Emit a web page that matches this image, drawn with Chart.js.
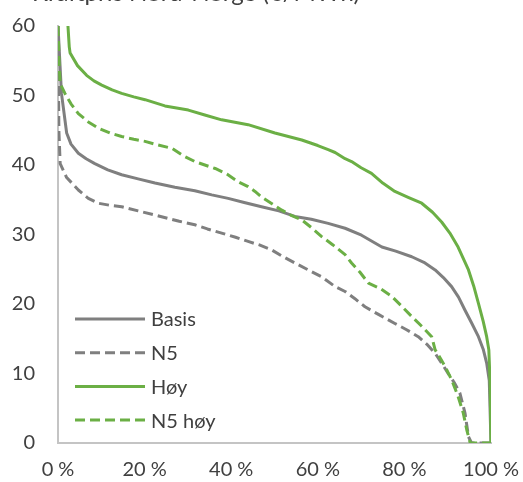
<!DOCTYPE html>
<html>
<head>
<meta charset="utf-8">
<script src="https://cdn.jsdelivr.net/npm/chart.js@4/dist/chart.umd.min.js"></script>
<style>
  html, body { margin: 0; padding: 0; background: #fff; overflow: hidden; }
  #wrap { position: relative; width: 523px; height: 482px; }
</style>
</head>
<body>
<div id="wrap"><canvas id="c" width="523" height="482"></canvas></div>
<script>
// Price duration curves, Nord-Norge (€/MWh), share of hours on x (%)
const chartTitle = 'Kraftpris Nord-Norge (€/MWh)';
const seriesNames = ['Basis', 'N5', 'Høy', 'N5 høy'];
const xTickLabels = ['0 %', '20 %', '40 %', '60 %', '80 %', '100 %'];
const yTickValues = [0, 10, 20, 30, 40, 50, 60];

const basisX = [0, 0.8, 2.0, 3.0, 4.7, 6.5, 8.5, 11.5, 14.7, 18.5, 22.4, 27, 31.6, 35.5, 39.3, 43, 47.0, 51, 54.7, 58.5, 62.4, 66.3, 70.1, 74.8, 78, 81.7, 84.5, 87.1, 89, 90.9, 92.5, 94.0, 95.5, 97.1, 98.2, 99.0, 99.6, 100];
const basisY = [60, 50.3, 44.6, 43.0, 41.7, 40.9, 40.2, 39.3, 38.6, 38.0, 37.4, 36.8, 36.3, 35.7, 35.2, 34.6, 34.0, 33.4, 32.6, 32.2, 31.6, 30.9, 29.9, 28.2, 27.6, 26.8, 26.0, 24.9, 23.8, 22.5, 21.0, 19.1, 17.3, 15.3, 13.5, 11.5, 9.0, 0];

const n5X = [0, 0.2, 0.5, 2.0, 4.7, 7, 9.3, 12, 14.7, 18.5, 22.4, 28, 31.6, 34.5, 37.8, 41, 43.9, 46.5, 49.3, 52, 54.7, 57.5, 60.9, 64, 66.3, 68.5, 70.9, 74, 77.8, 80.5, 83.2, 85.2, 87.1, 88.6, 90.1, 91.5, 92.8, 94.0, 94.8, 95.5, 100];
const n5Y = [60, 45, 40.2, 38.2, 36.4, 35.2, 34.5, 34.2, 34.0, 33.4, 32.8, 31.9, 31.4, 30.8, 30.2, 29.6, 29.0, 28.5, 27.8, 26.8, 25.9, 25.0, 23.9, 22.5, 21.8, 20.8, 19.6, 18.5, 17.2, 16.3, 15.3, 14.2, 12.9, 11.5, 10.0, 8.7, 7.2, 4.3, 0.9, 0, 0];

const hoyX = [2.3, 2.6, 2.8, 4.5, 6.6, 8.3, 10.1, 12.5, 14.7, 17.5, 20.1, 24.7, 30.1, 33.9, 37.8, 43.9, 50.1, 56.3, 60, 62.4, 64, 66.3, 67.8, 70, 72.4, 75, 77.8, 81, 84.0, 86.5, 88.6, 90.5, 92.4, 94.8, 96, 97.1, 98.2, 99.0, 99.5, 99.8, 100];
const hoyY = [60, 57, 56.1, 54.3, 52.9, 52.1, 51.5, 50.8, 50.3, 49.8, 49.4, 48.5, 47.9, 47.2, 46.5, 45.8, 44.6, 43.6, 42.8, 42.2, 41.8, 40.9, 40.5, 39.6, 38.8, 37.4, 36.2, 35.3, 34.5, 33.2, 31.8, 30.2, 28.2, 24.9, 22.6, 20.1, 17.5, 15.3, 13.4, 8.6, 0];

const n5HoyX = [0, 0.3, 0.5, 1.6, 3.0, 4.7, 7, 9.3, 12, 14.7, 17.5, 20.1, 23, 26.3, 29, 31.6, 33.9, 36.3, 39, 41.6, 43.9, 45.5, 47.0, 49.5, 51.7, 54, 56.3, 58.5, 60.9, 63.5, 66.3, 67.8, 69.7, 71.7, 74.5, 77.1, 79.5, 81.7, 84, 86.3, 87.1, 88.3, 89.4, 90.9, 92.4, 93.6, 94.4, 95.2, 100];
const n5HoyY = [60, 54, 51.7, 50.3, 48.8, 47.4, 46.2, 45.3, 44.6, 44.1, 43.7, 43.4, 42.9, 42.4, 41.3, 40.5, 40.0, 39.5, 38.7, 37.6, 36.9, 36.2, 35.4, 34.4, 33.5, 32.7, 32.1, 31.0, 29.7, 28.5, 27.1, 25.9, 24.6, 23.0, 22.2, 21.1, 19.6, 18.2, 16.8, 15.3, 13.4, 12.2, 11.0, 9.1, 6.7, 4.3, 1.9, 0, 0];

const GRAY = '#7F7F7F';
const GREEN = '#6BAF45';
const TEXT = '#404040';
const AXIS = '#C4C4C4';
const FONT = 'Lato, "Open Sans", sans-serif';

function pts(xs, ys) { return xs.map((x, i) => ({ x: x, y: ys[i] })); }

function line(label, xs, ys, color, dashed, order) {
  return {
    label: label,
    data: pts(xs, ys),
    borderColor: color,
    backgroundColor: color,
    borderWidth: 3,
    borderDash: dashed ? [10, 5] : [],
    borderCapStyle: 'butt',
    borderJoinStyle: 'round',
    pointRadius: 0,
    tension: 0,
    fill: false,
    order: order
  };
}

// Title, partly above the canvas edge
const titlePlugin = {
  id: 'topTitle',
  afterDraw(chart) {
    const ctx = chart.ctx;
    ctx.save();
    ctx.font = '24px ' + FONT;
    ctx.fillStyle = TEXT;
    ctx.textBaseline = 'alphabetic';
    ctx.textAlign = 'left';
    ctx.fillText(chartTitle, 32, 1);
    ctx.restore();
  }
};

// Legend drawn inside the plot, lower left
const insideLegend = {
  id: 'insideLegend',
  afterDatasetsDraw(chart) {
    const ctx = chart.ctx;
    const x0 = chart.chartArea.left + 17;
    const len = 70;
    const y0 = 319, step = 33.7;
    ctx.save();
    ctx.font = '20px ' + FONT;
    ctx.fillStyle = TEXT;
    ctx.textBaseline = 'middle';
    chart.data.datasets.forEach((ds, i) => {
      const y = y0 + i * step;
      ctx.beginPath();
      ctx.strokeStyle = ds.borderColor;
      ctx.lineWidth = ds.borderWidth;
      ctx.lineCap = 'butt';
      ctx.setLineDash(ds.borderDash);
      ctx.moveTo(x0, y);
      ctx.lineTo(x0 + len, y);
      ctx.stroke();
      ctx.setLineDash([]);
      ctx.fillText(ds.label, x0 + len + 6, y + 1);
    });
    ctx.restore();
  }
};

new Chart(document.getElementById('c'), {
  type: 'line',
  data: {
    datasets: [
      line(seriesNames[0], basisX, basisY, GRAY, false, 4),
      line(seriesNames[1], n5X, n5Y, GRAY, true, 3),
      line(seriesNames[2], hoyX, hoyY, GREEN, false, 2),
      line(seriesNames[3], n5HoyX, n5HoyY, GREEN, true, 1)
    ]
  },
  options: {
    responsive: false,
    animation: false,
    events: [],
    layout: { padding: { top: 26, right: 32, left: 0, bottom: 0 } },
    plugins: {
      legend: { display: false },
      title: { display: false },
      tooltip: { enabled: false }
    },
    scales: {
      x: {
        type: 'linear',
        min: 0,
        max: 100,
        afterFit(scale) {
          scale.height = 39;
          scale.paddingLeft = 0; scale.paddingRight = 0;
          scale.paddingTop = 0; scale.paddingBottom = 0;
        },
        grid: { display: false, drawTicks: false },
        border: { display: true, color: AXIS, width: 2 },
        afterBuildTicks(scale) {
          scale.ticks = xTickLabels.map((_, i) => ({ value: i * 20 }));
        },
        ticks: {
          autoSkip: false,
          maxRotation: 0,
          padding: 15,
          color: TEXT,
          font: { family: FONT, size: 20 },
          callback: (v) => xTickLabels[Math.round(v / 20)]
        }
      },
      y: {
        type: 'linear',
        min: 0,
        max: 60,
        afterFit(scale) {
          scale.width = 58;
          scale.paddingLeft = 0; scale.paddingRight = 0;
          scale.paddingTop = 0; scale.paddingBottom = 0;
        },
        grid: { display: false, drawTicks: false },
        border: { display: true, color: AXIS, width: 2 },
        afterBuildTicks(scale) {
          scale.ticks = yTickValues.map(v => ({ value: v }));
        },
        ticks: {
          autoSkip: false,
          padding: 23,
          color: TEXT,
          font: { family: FONT, size: 20 },
          callback: (v) => String(v)
        }
      }
    }
  },
  plugins: [titlePlugin, insideLegend]
});
</script>
</body>
</html>
